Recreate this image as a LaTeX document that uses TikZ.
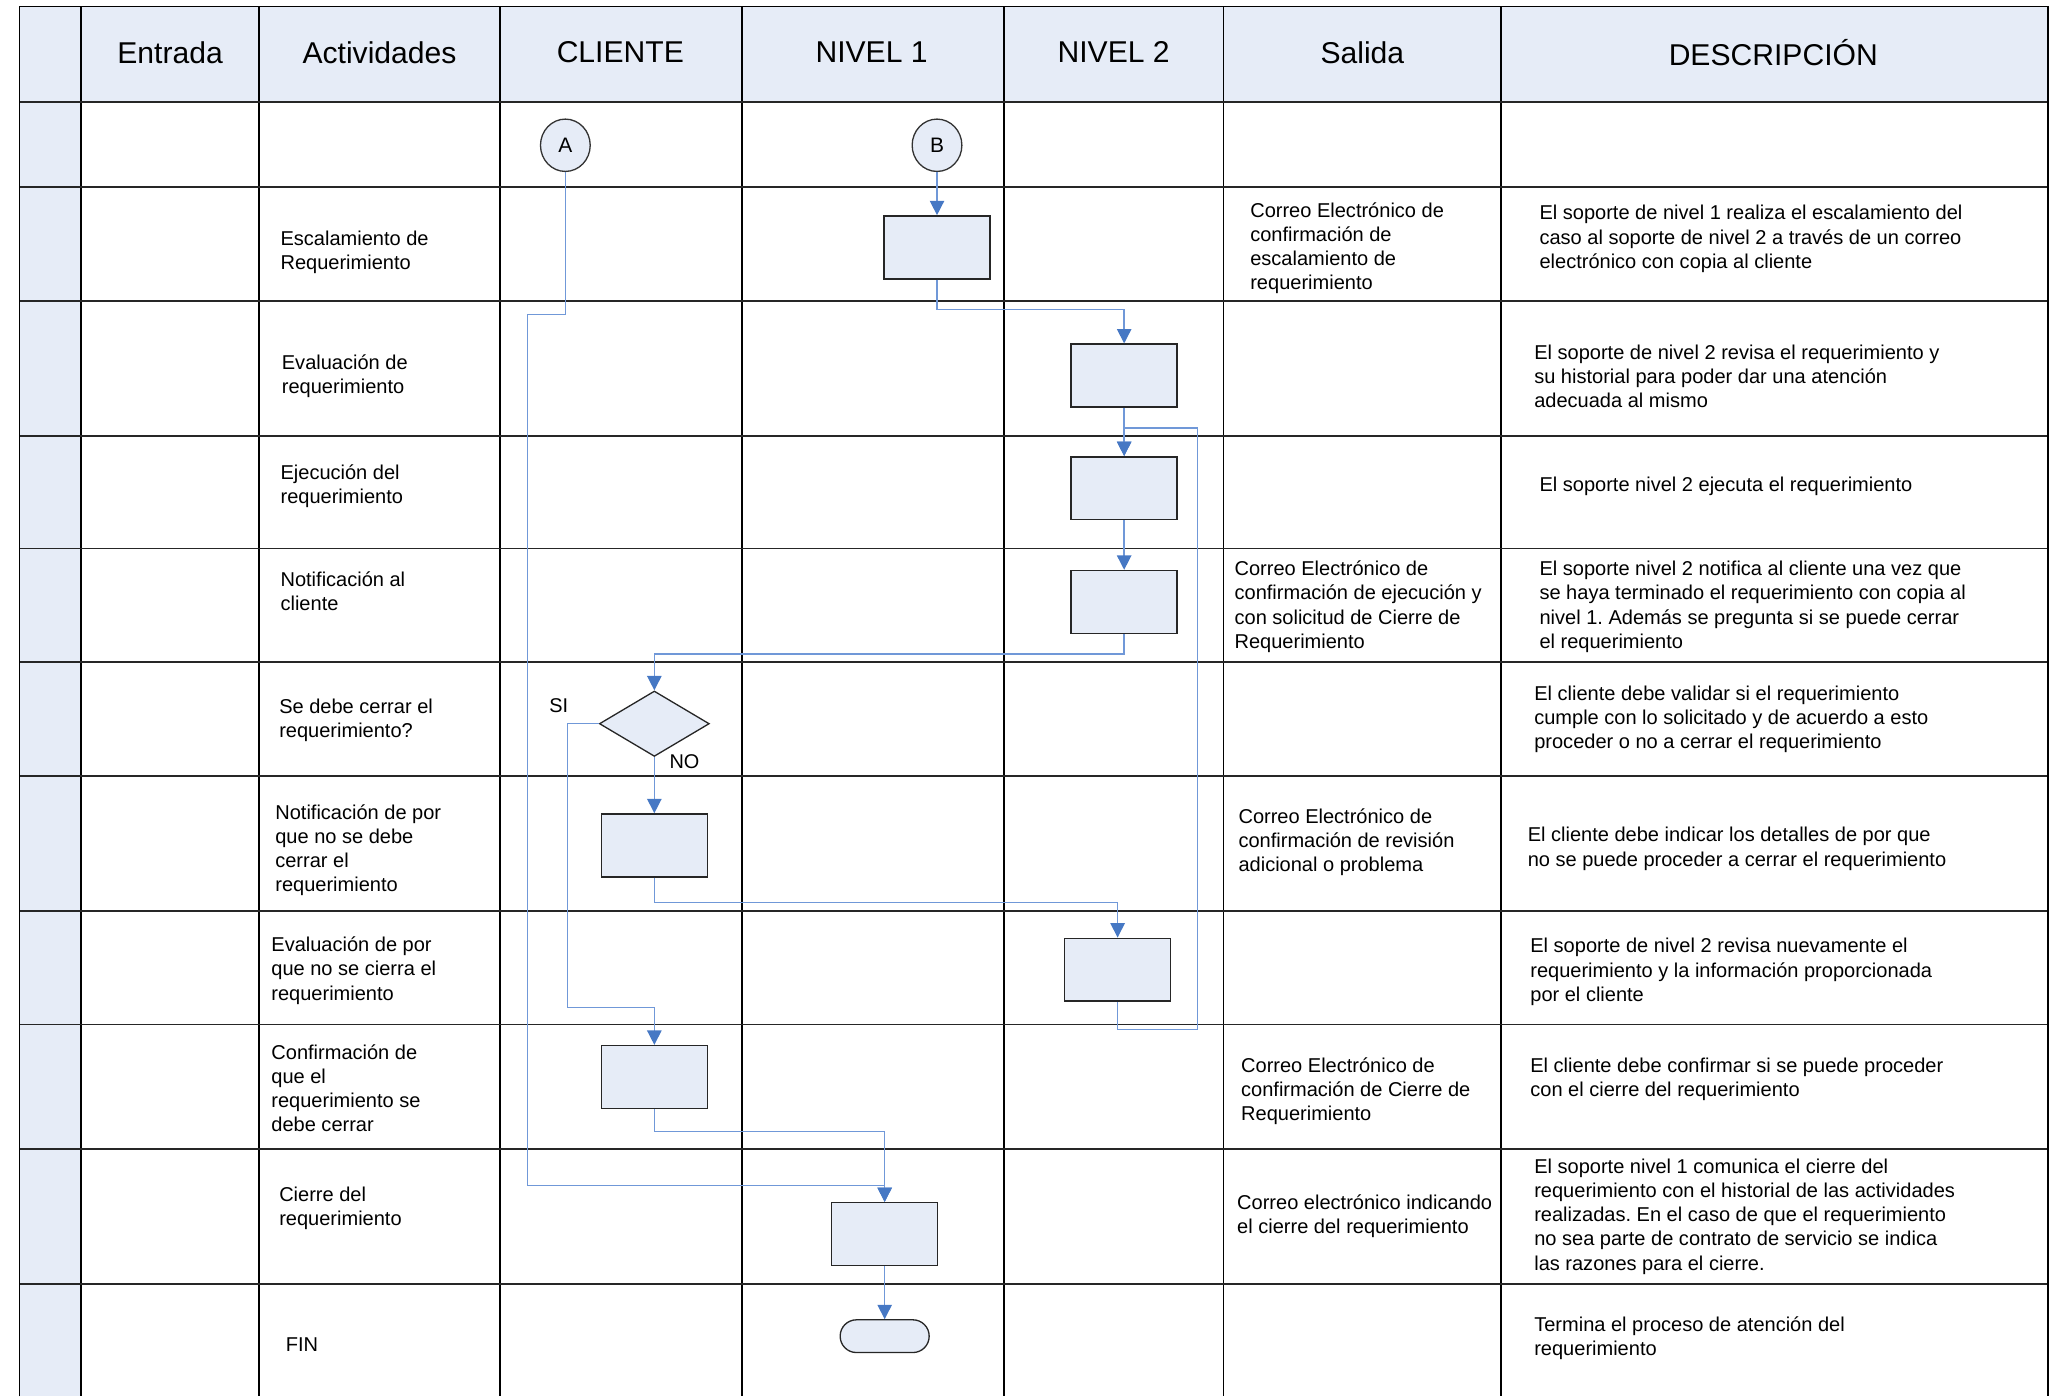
\documentclass[tikz,border=0pt]{standalone}
\usepackage{fontspec}
\setmainfont{Liberation Sans}
\frenchspacing
\usetikzlibrary{arrows.meta,shapes.geometric}
\definecolor{fillb}{RGB}{230,236,247}
\definecolor{tipb}{RGB}{70,120,196}
\definecolor{lineb}{RGB}{112,152,216}
\begin{document}
\begin{tikzpicture}[x=0.5pt,y=-0.5pt,
  grid/.style={draw=black,line width=0.6pt},
  hdr/.style={font=\fontsize{11.5}{13}\selectfont},
  txt/.style={font=\fontsize{7.65}{9.25}\selectfont,align=left,anchor=west,inner sep=0pt,yshift=-0.8pt},
  lbl/.style={font=\fontsize{7.6}{9}\selectfont,inner sep=0pt},
  circ/.style={ellipse,draw=black!80,fill=fillb,line width=0.5pt,minimum width=19pt,minimum height=20pt,inner sep=0pt,font=\fontsize{8}{9}\selectfont},
  procbox/.style={rectangle,draw=black!85,fill=fillb,line width=0.6pt,minimum width=40.5pt,minimum height=24pt,inner sep=0pt},
  decbox/.style={diamond,draw=black!85,fill=fillb,line width=0.5pt,minimum width=42pt,minimum height=25pt,inner sep=0pt},
  termbox/.style={rectangle,rounded corners=6.2pt,draw=black!85,fill=fillb,line width=0.5pt,minimum width=34pt,minimum height=12.5pt,inner sep=0pt},
  arr/.style={draw=lineb,line width=0.55pt,-{Triangle[length=5.5pt,width=5.5pt,color=tipb]}},
]
\useasboundingbox (0,0) rectangle (1568,1067);
% fills
\fill[fillb] (15,5) rectangle (62,1067);
\fill[fillb] (62,5) rectangle (1565,78);
% grid
\foreach \xx in {62,198,382,567,767,935,1147}
  \draw[grid] (\xx,5) -- (\xx,1067);
\foreach \yy in {78,143,230,333,419,506,593,696,783,878,981}
  \draw[grid,draw=black!85] (15,\yy) -- (1565,\yy);
\draw[grid] (15,1067) -- (15,5) -- (1565,5) -- (1565,1067);
% headers
\node[hdr] (h1) at (130,40) {Entrada};
\node[hdr] (h2) at (290,40) {Actividades};
\node[hdr] (h3) at (474,40) {CLIENTE};
\node[hdr] (h4) at (666,40) {NIVEL 1};
\node[hdr] (h5) at (851,40) {NIVEL 2};
\node[hdr] (h6) at (1041,40) {Salida};
\node[hdr] (h7) at (1355,40) {DESCRIPCIÓN};
% flow nodes
\node[circ] (A) at (432,111) {A};
\node[circ] (B) at (716,111) {B};
\node[procbox] (b1) at (716,189) {};
\node[procbox] (b2) at (859,287) {};
\node[procbox] (b3) at (859,373) {};
\node[procbox] (b4) at (859,460) {};
\node[decbox] (dec) at (500,553) {};
\node[procbox] (b5) at (500,646) {};
\node[procbox] (b6) at (854,741) {};
\node[procbox] (b7) at (500,823) {};
\node[procbox] (b8) at (676,943) {};
\node[termbox] (term) at (676,1021) {};
\coordinate (loopc) at (915,327);
\coordinate (ac) at (403,906);
% connectors
\draw[arr] (B) -- (b1);
\draw[arr] (b1.south) -- ++(0,23) -| (b2.north);
\draw[arr] (b2) -- (b3);
\draw[arr] (b3) -- (b4);
\draw[arr] (b4.south) -- ++(0,15) -| (dec.north);
\draw[arr] (dec.south) -- (b5.north);
\draw[arr] (dec.west) -- ++(-24,0) -- ++(0,217) -| (b7.north);
\draw[arr] (b5.south) -- ++(0,19) -| (b6.north);
\draw[arr] (b6.south) -- ++(0,21) -| (loopc) -| (b3.north);
\draw[arr] (b7.south) -- ++(0,17) -| (b8.north);
\draw[arr] (A.south) -- ++(0,109) -| (ac) -| (b8.north);
\draw[arr] (b8) -- (term);
\node[lbl] (si) at (427,539) {SI};
\node[lbl] (no) at (523,582) {NO};
% actividades
\node[txt] (a1) at (214,191) {Escalamiento de\\Requerimiento};
\node[txt] (a2) at (215,286) {Evaluación de\\requerimiento};
\node[txt] (a3) at (214,370) {Ejecución del\\requerimiento};
\node[txt] (a4) at (214,450) {Notificación al\\cliente};
\node[txt] (a5) at (213,549) {Se debe cerrar el\\requerimiento?};
\node[txt] (a6) at (210,648) {Notificación de por\\que no se debe\\cerrar el\\requerimiento};
\node[txt] (a7) at (207,740) {Evaluación de por\\que no se cierra el\\requerimiento};
\node[txt] (a8) at (207,830) {Confirmación de\\que el\\requerimiento se\\debe cerrar};
\node[txt] (a9) at (213,922) {Cierre del\\requerimiento};
\node[txt] (a10) at (218,1026) {FIN};
% salida
\node[txt] (s1) at (955,188) {Correo Electrónico de\\confirmación de\\escalamiento de\\requerimiento};
\node[txt] (s2) at (943,462) {Correo Electrónico de\\confirmación de ejecución y\\con solicitud de Cierre de\\Requerimiento};
\node[txt] (s3) at (946,642) {Correo Electrónico de\\confirmación de revisión\\adicional o problema};
\node[txt] (s4) at (948,832) {Correo Electrónico de\\confirmación de Cierre de\\Requerimiento};
\node[txt] (s5) at (945,928) {Correo electrónico indicando\\el cierre del requerimiento};
% descripcion
\node[txt] (d1) at (1176,181) {El soporte de nivel 1 realiza el escalamiento del\\caso al soporte de nivel 2 a través de un correo\\electrónico con copia al cliente};
\node[txt] (d2) at (1172,286) {El soporte de nivel 2 revisa el requerimiento y\\su historial para poder dar una atención\\adecuada al mismo};
\node[txt] (d3) at (1176,370) {El soporte nivel 2 ejecuta el requerimiento};
\node[txt] (d4) at (1176,462) {El soporte nivel 2 notifica al cliente una vez que\\se haya terminado el requerimiento con copia al\\nivel 1. Además se pregunta si se puede cerrar\\el requerimiento};
\node[txt] (d5) at (1172,548) {El cliente debe validar si el requerimiento\\cumple con lo solicitado y de acuerdo a esto\\proceder o no a cerrar el requerimiento};
\node[txt] (d6) at (1167,647) {El cliente debe indicar los detalles de por que\\no se puede proceder a cerrar el requerimiento};
\node[txt] (d7) at (1169,741) {El soporte de nivel 2 revisa nuevamente el\\requerimiento y la información proporcionada\\por el cliente};
\node[txt] (d8) at (1169,823) {El cliente debe confirmar si se puede proceder\\con el cierre del requerimiento};
\node[txt] (d9) at (1172,928) {El soporte nivel 1 comunica el cierre del\\requerimiento con el historial de las actividades\\realizadas. En el caso de que el requerimiento\\no sea parte de contrato de servicio se indica\\las razones para el cierre.};
\node[txt] (d10) at (1172,1021) {Termina el proceso de atención del\\requerimiento};
\end{tikzpicture}
\end{document}
